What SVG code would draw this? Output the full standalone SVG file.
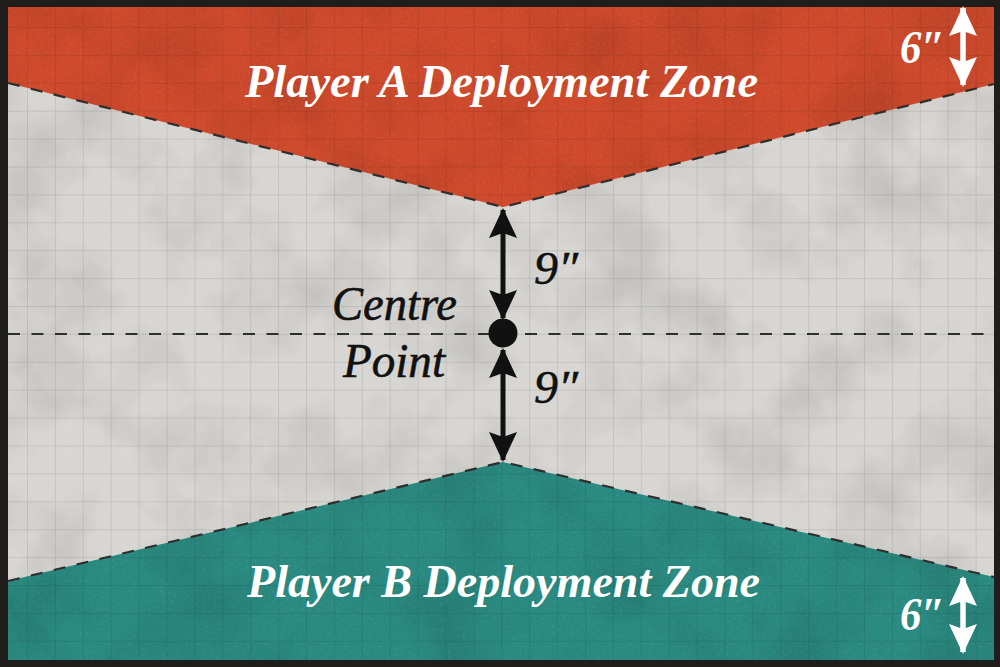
<svg xmlns="http://www.w3.org/2000/svg" width="1000" height="667" viewBox="0 0 1000 667">
  <style>
    .dash { fill: none; stroke: #2e2e2e; stroke-width: 2.2; stroke-dasharray: 12 11.5; }
    .zone-label { font-family: "Liberation Serif", "DejaVu Serif", serif; font-style: italic; font-weight: bold; font-size: 47px; fill: #ffffff; }
    .six { font-family: "Liberation Serif", "DejaVu Serif", serif; font-style: italic; font-weight: bold; font-size: 46px; fill: #ffffff; }
    .black-label { font-family: "Liberation Serif", "DejaVu Serif", serif; font-style: italic; font-size: 48px; fill: #111111; stroke: #111111; stroke-width: 0.6; }
    .nine { font-family: "Liberation Serif", "DejaVu Serif", serif; font-style: italic; font-size: 46px; fill: #111111; stroke: #111111; stroke-width: 0.6; }
    .shaft-black { stroke: #111111; stroke-width: 5; fill: none; }
    .shaft-white { stroke: #ffffff; stroke-width: 5.5; fill: none; }
  </style>
  <defs>
    <pattern id="grid" x="27" y="27" width="27.9" height="27.9" patternUnits="userSpaceOnUse">
      <path d="M0,0 H27.9 M0,0 V27.9" stroke="#000" stroke-opacity="0.17" stroke-width="1" fill="none"/>
    </pattern>
    <filter id="grain" x="0" y="0" width="100%" height="100%">
      <feTurbulence type="fractalNoise" baseFrequency="0.012" numOctaves="4" seed="7"/>
      <feColorMatrix values="0 0 0 0 0  0 0 0 0 0  0 0 0 0 0  1.1 0 0 0 -0.45"/>
    </filter>
    <filter id="speck" x="0" y="0" width="100%" height="100%">
      <feTurbulence type="fractalNoise" baseFrequency="0.35" numOctaves="2" seed="2"/>
      <feColorMatrix values="0 0 0 0 1  0 0 0 0 1  0 0 0 0 1  1.6 0 0 0 -0.85"/>
    </filter>
    <marker id="headBlack" viewBox="0 0 30 30" refX="28" refY="15" markerWidth="30" markerHeight="30" markerUnits="userSpaceOnUse" orient="auto-start-reverse">
      <path d="M0,1 L30,15 L0,29 L5,15 Z" fill="#111111"/>
    </marker>
    <marker id="headWhite" viewBox="0 0 30 30" refX="28" refY="15" markerWidth="30" markerHeight="30" markerUnits="userSpaceOnUse" orient="auto-start-reverse">
      <path d="M0,1 L30,15 L0,29 L5,15 Z" fill="#ffffff"/>
    </marker>
  </defs>

  <g id="frame">
    <rect x="0" y="0" width="1000" height="667" fill="#1f1e1d"/>
  </g>

  <g id="board">
    <rect x="8" y="7" width="986" height="653" fill="#d7d6d2"/>
  </g>

  <g id="zone-a">
    <polygon points="8,7 994,7 994,84 503,207 8,83" fill="#cf4a2c"/>
  </g>

  <g id="zone-b">
    <polygon points="8,581 503,462 994,577 994,660 8,660" fill="#2a8a81"/>
  </g>

  <g id="texture">
    <rect x="8" y="7" width="986" height="653" filter="url(#grain)" opacity="0.2"/>
    <rect x="8" y="7" width="986" height="653" filter="url(#speck)" opacity="0.12"/>
    <rect x="8" y="7" width="986" height="653" fill="url(#grid)"/>
  </g>

  <g id="connectors">
    <polyline class="dash" points="8,83 503,207 994,84"/>
    <polyline class="dash" points="8,581 503,462 994,577"/>
    <line class="dash" x1="8" y1="334" x2="994" y2="334"/>
    <line class="shaft-black" x1="503" y1="210" x2="503" y2="318" marker-start="url(#headBlack)" marker-end="url(#headBlack)"/>
    <line class="shaft-black" x1="503" y1="350" x2="503" y2="460" marker-start="url(#headBlack)" marker-end="url(#headBlack)"/>
    <line class="shaft-white" x1="963" y1="8" x2="963" y2="85" marker-start="url(#headWhite)" marker-end="url(#headWhite)"/>
    <line class="shaft-white" x1="963" y1="578" x2="963" y2="652" marker-start="url(#headWhite)" marker-end="url(#headWhite)"/>
  </g>

  <g id="centre-point">
    <circle cx="503" cy="333" r="14.5" fill="#111111"/>
    <text class="black-label" x="332" y="320" textLength="125" lengthAdjust="spacingAndGlyphs">Centre</text>
    <text class="black-label" x="343" y="377" textLength="102" lengthAdjust="spacingAndGlyphs">Point</text>
  </g>

  <g id="label-a">
    <text class="zone-label" x="245" y="97" textLength="513" lengthAdjust="spacingAndGlyphs">Player A Deployment Zone</text>
  </g>

  <g id="label-b">
    <text class="zone-label" x="247" y="597" textLength="513" lengthAdjust="spacingAndGlyphs">Player B Deployment Zone</text>
  </g>

  <g id="measure-labels">
    <text class="nine" x="534" y="284" textLength="44" lengthAdjust="spacingAndGlyphs">9″</text>
    <text class="nine" x="534" y="403" textLength="44" lengthAdjust="spacingAndGlyphs">9″</text>
    <text class="six" x="900" y="63" textLength="45" lengthAdjust="spacingAndGlyphs">6″</text>
    <text class="six" x="900" y="630" textLength="45" lengthAdjust="spacingAndGlyphs">6″</text>
  </g>
</svg>
